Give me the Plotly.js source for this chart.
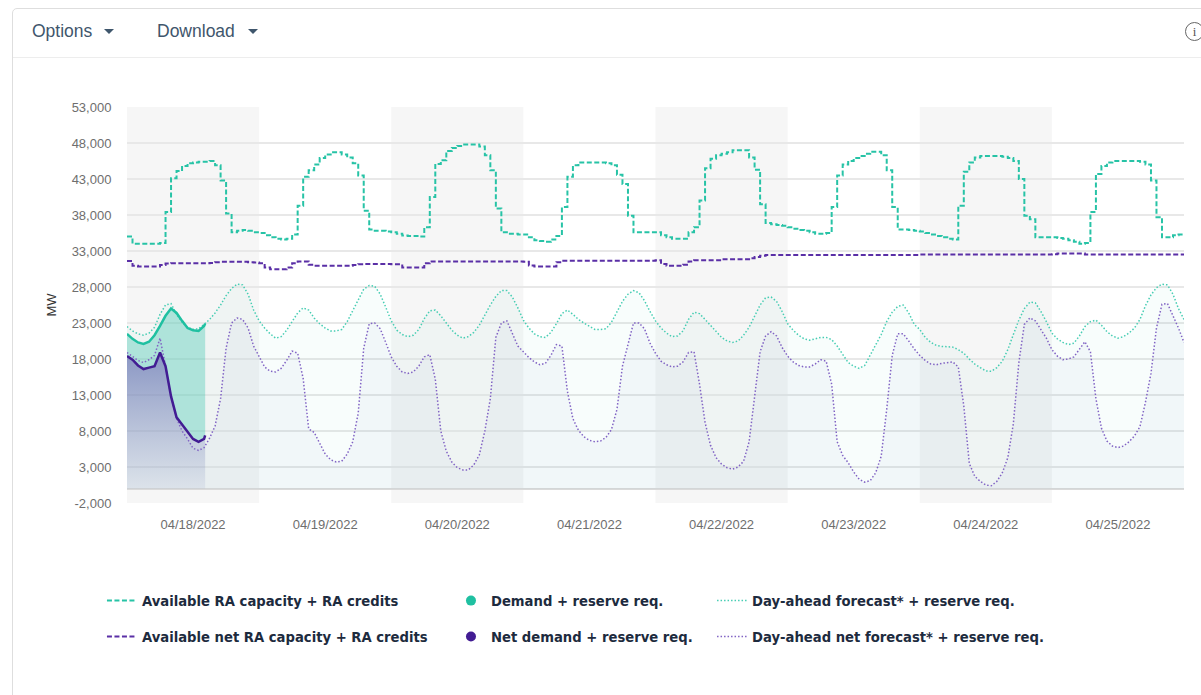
<!DOCTYPE html>
<html>
<head>
<meta charset="utf-8">
<script src="https://cdn.plot.ly/plotly-3.0.1.min.js"></script>
<style>
  html, body { margin:0; padding:0; background:#ffffff; width:1201px; height:695px; overflow:hidden; }
  #card { position:absolute; left:12px; top:8px; width:1260px; height:760px; border:1px solid #dedede; border-radius:5px; box-sizing:border-box; background:#fff; }
  #hdrline { position:absolute; left:13px; top:57px; width:1200px; height:1px; background:#ededed; }
  .menu { position:absolute; top:20px; height:22px; line-height:22px; font-family:"Liberation Sans", Arial, sans-serif; font-size:17.5px; color:#3f566c; }
  .caret { position:absolute; top:29px; width:0; height:0; border-left:5px solid transparent; border-right:5px solid transparent; border-top:5px solid #3f566c; }
  #info { position:absolute; left:1185px; top:22px; width:17px; height:17px; border:1.5px solid #666; border-radius:50%; font-family:"Liberation Serif", serif; font-size:13px; line-height:17px; text-align:center; color:#555; }
  #chart { position:absolute; left:0; top:0; width:1201px; height:695px; }
</style>
</head>
<body>
<div id="card"></div>
<div id="hdrline"></div>
<div class="menu" style="left:32px;">Options</div>
<div class="caret" style="left:104px;"></div>
<div class="menu" style="left:157px;">Download</div>
<div class="caret" style="left:248px;"></div>
<div id="info">i</div>
<div id="chart"></div>
<script>
// ---------- DATA ----------
const dayLabels = ['04/18/2022','04/19/2022','04/20/2022','04/21/2022','04/22/2022','04/23/2022','04/24/2022','04/25/2022'];
const yTickVals = [-2000, 3000, 8000, 13000, 18000, 23000, 28000, 33000, 38000, 43000, 48000, 53000];
const yTickText = ['-2,000','3,000','8,000','13,000','18,000','23,000','28,000','33,000','38,000','43,000','48,000','53,000'];

// Available RA capacity + RA credits (hourly, 04/18 00:00 .. 04/26 00:00)
const raCapacity = [
 35000,34000,34000,34000,34000,34000,34100,38400,43100,44100,44800,45200,45300,45400,45400,45500,44900,42800,38200,35600,35800,35900,35800,35600,
 35500,35200,34900,34700,34600,34700,35300,39300,43300,44200,45000,45900,46400,46700,46700,46400,46000,45200,43500,38600,36000,35800,35800,35700,
 35600,35400,35150,35100,35100,35000,36300,40500,45100,45600,46900,47300,47600,47800,47800,47800,47500,46300,44200,38900,35600,35400,35400,35300,
 35300,34900,34500,34400,34300,34600,35100,39100,43300,44900,45300,45300,45300,45300,45300,45200,44900,43600,42300,37900,35600,35600,35600,35600,
 35600,35200,34900,34700,34700,34700,35600,36300,40000,44500,45800,46300,46500,46700,47000,47000,47000,46000,44300,39500,36900,36700,36600,36500,
 36300,36100,35900,35800,35600,35400,35400,35500,39100,43500,45000,45500,45900,46200,46500,46800,46800,46300,44200,39100,36000,36000,35900,35800,
 35700,35500,35300,35100,34900,34700,34600,39300,44000,45300,46000,46200,46200,46200,46200,46100,45900,45500,43000,37900,37400,34900,34900,34900,
 34900,34800,34700,34500,34300,34000,34100,38400,43700,44800,45300,45500,45500,45500,45500,45500,45400,45000,42800,37700,34900,34900,35200,35300,35200
];
// Available net RA capacity + RA credits
const netRaCapacity = [
 31600,30950,30850,30850,30850,30850,31050,31250,31300,31300,31300,31300,31300,31300,31300,31350,31450,31500,31500,31500,31500,31500,31450,31400,
 31300,30700,30450,30450,30450,30700,31300,31550,31550,31100,30950,30950,30950,30950,30950,30950,30950,31050,31150,31200,31200,31200,31200,31200,
 31150,31150,30700,30700,30700,30700,31300,31550,31550,31550,31550,31550,31550,31550,31550,31550,31550,31550,31550,31550,31550,31550,31550,31550,
 31500,31000,30850,30850,30850,30850,31450,31650,31650,31650,31650,31650,31650,31650,31650,31650,31650,31650,31650,31650,31650,31650,31650,31650,
 31700,31200,30950,30950,30950,31100,31550,31700,31700,31700,31700,31700,31850,31850,31850,31850,31850,32000,32150,32350,32450,32450,32450,32450,
 32450,32450,32450,32450,32450,32450,32450,32450,32450,32450,32450,32450,32450,32450,32450,32450,32450,32450,32450,32450,32450,32450,32450,32450,
 32500,32500,32500,32500,32500,32500,32500,32500,32500,32500,32500,32500,32500,32500,32500,32500,32500,32500,32500,32500,32500,32500,32500,32500,
 32550,32650,32650,32650,32650,32650,32500,32500,32500,32500,32500,32500,32500,32500,32500,32500,32500,32500,32500,32500,32500,32500,32500,32500,32500
];
// Day-ahead forecast* + reserve req.
const daForecast = [
 22500,21900,21500,21300,21600,22400,24200,25500,25700,24200,23100,22400,22100,22200,22800,23500,24400,25500,26800,27800,28400,28300,27000,24800,
 23300,22300,21500,20900,21100,22000,23200,24400,25100,24800,23700,22900,22300,21900,21900,22100,23200,24600,26200,27700,28200,28100,27000,25200,
 23300,22000,21400,21100,21300,22100,23600,24700,24800,24000,23000,22000,21300,20900,21100,21700,22700,24200,25500,26700,27500,27500,26600,25100,
 23400,22300,21500,21100,21000,21700,22900,24300,24800,24200,23500,23000,22600,22100,22100,22200,23100,24600,26000,27000,27500,27200,26100,24600,
 23300,22300,21600,21100,21200,21900,23500,24500,24300,23500,22700,21800,21000,20500,20300,20500,21300,22400,24000,25500,26500,26600,26000,24600,
 22900,22000,21300,20800,20600,20800,21000,21000,20700,19800,18600,17500,17000,16700,17100,18500,20000,21400,23200,24500,25300,25500,24400,22800,
 22100,21000,20300,19900,19750,19750,19650,19300,18800,18000,17300,16800,16350,16300,16800,17700,19300,21400,23400,25000,25900,25800,24600,23200,
 21600,20800,20300,20000,20200,21200,22500,23200,23400,22700,21800,21200,20900,21100,21600,22300,23500,25400,26900,27900,28400,28300,27000,25000,23500
];
// Day-ahead net forecast* + reserve req.
const daNetForecast = [
 18900,18300,17800,17500,17900,18500,20900,17000,12800,9800,8000,6900,5600,5300,5700,7000,8700,12500,19500,23000,23700,23500,22300,19800,
 18300,16900,16300,16200,16700,17800,19100,18800,15300,8300,7800,6300,4800,4000,3700,3800,4800,6500,10500,19500,22900,23000,22200,20300,
 18300,17000,16200,16000,16200,17000,18300,18600,15200,8000,5200,3700,2900,2600,2600,3300,4700,8000,12500,21000,23000,23300,21600,19800,
 19000,18200,17600,17200,17400,18500,20000,19800,13500,9700,8100,7200,6700,6500,6600,7100,8200,11000,17000,20200,23000,23000,22200,20200,
 18800,17700,17200,16900,17000,17600,18900,19000,14500,9200,6000,4300,3400,2900,2700,3000,3800,6500,12500,19000,21200,21800,21200,19600,
 18400,17600,17100,16900,16900,17300,17900,17700,14500,6500,4600,3600,2300,1300,900,1100,2200,4500,11000,18500,21500,21500,20500,19400,
 18500,17800,17300,17200,17400,17500,17600,16900,11500,3500,1700,1000,500,400,1000,2200,4300,9000,17500,22800,23700,23300,22000,20900,
 19300,18400,17900,18000,18300,19300,20400,19000,12500,8400,6600,5900,5700,5900,6500,7300,8600,12000,16000,22300,25600,25700,24100,22300,20300
];
// Actuals (04/18)
const actualTimes = ['2022-04-18 00:00','2022-04-18 01:00','2022-04-18 02:00','2022-04-18 03:00','2022-04-18 04:00','2022-04-18 05:00',
 '2022-04-18 06:00','2022-04-18 07:00','2022-04-18 08:00','2022-04-18 09:00','2022-04-18 10:00','2022-04-18 11:00',
 '2022-04-18 12:00','2022-04-18 13:00','2022-04-18 14:00','2022-04-18 14:12'];
const demandActual = [21500,20800,20300,20100,20400,21300,22600,24000,25000,24400,23300,22300,22000,21900,22600,22900];
const netDemandActual = [18400,17900,17100,16600,16800,17000,18900,17000,12800,9900,8900,7900,6900,6500,6900,7400];

// ---------- helpers ----------
function hourStamp(h) {
  const d = new Date(Date.UTC(2022, 3, 18, 0, 0) + h * 3600000);
  return d.toISOString().slice(0, 16).replace('T', ' ');
}
const hours = raCapacity.map((_, i) => hourStamp(i));
const dayStart = i => hourStamp(i * 24);
const tickVals = dayLabels.map((_, i) => hourStamp(i * 24 + 12));

const TEAL = '#27c3a6', PURPLE = '#5a2fa6';
const TEAL_DOT = '#46cdb3', PURPLE_DOT = '#8163c4';
const TEAL_SOLID = '#1fc0a1', PURPLE_SOLID = '#421c93';

const traces = [
  // fills
  {x: hours, y: daForecast, mode: 'none', fill: 'tozeroy', fillcolor: 'rgba(38,194,165,0.03)', showlegend: false, hoverinfo: 'skip'},
  {x: hours, y: daNetForecast, mode: 'none', fill: 'tozeroy', fillcolor: 'rgba(95,115,175,0.045)', showlegend: false, hoverinfo: 'skip'},
  {x: actualTimes, y: netDemandActual, mode: 'none', fill: 'tozeroy',
   fillgradient: {type: 'vertical', start: 0, stop: 19000,
     colorscale: [[0, 'rgba(110,125,180,0.10)'], [1, 'rgba(100,115,178,0.72)']]},
   showlegend: false, hoverinfo: 'skip'},
  {x: actualTimes, y: demandActual, mode: 'none', fill: 'tonexty', fillcolor: 'rgba(38,194,165,0.32)', showlegend: false, hoverinfo: 'skip'},
  // lines
  {x: hours, y: raCapacity, mode: 'lines', name: 'Available RA capacity + RA credits', line: {color: TEAL, width: 2, dash: '5px,2.5px', shape: 'hv'}, legend: 'legend'},
  {x: hours, y: netRaCapacity, mode: 'lines', name: 'Available net RA capacity + RA credits', line: {color: PURPLE, width: 2, dash: '5px,2.5px', shape: 'hv'}, legend: 'legend4'},
  {x: hours, y: daForecast, mode: 'lines', name: 'Day-ahead forecast* + reserve req.', line: {color: TEAL_DOT, width: 1.5, dash: '1.5px,2px'}, legend: 'legend3'},
  {x: hours, y: daNetForecast, mode: 'lines', name: 'Day-ahead net forecast* + reserve req.', line: {color: PURPLE_DOT, width: 1.5, dash: '1.5px,2px'}, legend: 'legend6'},
  {x: actualTimes, y: demandActual, mode: 'lines', line: {color: TEAL_SOLID, width: 2.5}, showlegend: false},
  {x: actualTimes, y: netDemandActual, mode: 'lines', line: {color: PURPLE_SOLID, width: 2.5}, showlegend: false},
  // legend markers
  {x: [null], y: [null], mode: 'markers', name: 'Demand + reserve req.', marker: {color: TEAL_SOLID, size: 10}, legend: 'legend2'},
  {x: [null], y: [null], mode: 'markers', name: 'Net demand + reserve req.', marker: {color: PURPLE_SOLID, size: 10}, legend: 'legend5'}
];

const shapes = [0, 2, 4, 6].map(i => ({
  type: 'rect', xref: 'x', yref: 'paper', x0: dayStart(i), x1: dayStart(i + 1), y0: 0, y1: 1,
  fillcolor: '#f6f6f6', line: {width: 0}, layer: 'below'
}));

const legFont = {family: '"DejaVu Sans", sans-serif', size: 13.2, color: '#1d2b3e', weight: 'bold'};
function leg(x, y) {
  return {x: x, y: y, xanchor: 'left', yanchor: 'middle', orientation: 'v', bgcolor: 'rgba(0,0,0,0)', font: legFont, itemwidth: 30};
}
const r1 = -0.2475, r2 = -0.3384;

const layout = {
  width: 1201, height: 695,
  margin: {l: 127, r: 17, t: 107, b: 192},
  paper_bgcolor: 'rgba(0,0,0,0)', plot_bgcolor: '#ffffff',
  hovermode: false,
  shapes: shapes,
  xaxis: {
    type: 'date', range: [dayStart(0), dayStart(8)],
    tickvals: tickVals, ticktext: dayLabels,
    showgrid: false, zeroline: false, showline: false,
    ticks: 'outside', ticklen: 9, tickcolor: 'rgba(0,0,0,0)',
    tickfont: {family: '"Liberation Sans", Arial, sans-serif', size: 13, color: '#6e6e6e'}
  },
  yaxis: {
    range: [-2000, 53000], tickvals: yTickVals, ticktext: yTickText,
    showgrid: true, gridcolor: '#e8e8e8', gridwidth: 2,
    zeroline: true, zerolinecolor: '#dadada', zerolinewidth: 2,
    ticks: 'outside', ticklen: 12, tickcolor: 'rgba(0,0,0,0)',
    tickfont: {family: '"Liberation Sans", Arial, sans-serif', size: 13, color: '#6e6e6e'},
    title: {text: 'MW', standoff: 12, font: {family: '"Liberation Sans", Arial, sans-serif', size: 13, color: '#333'}}
  },
  legend: leg(-0.0237, r1),
  legend2: leg(0.3065, r1),
  legend3: leg(0.5535, r1),
  legend4: leg(-0.0237, r2),
  legend5: leg(0.3065, r2),
  legend6: leg(0.5535, r2)
};

Plotly.newPlot('chart', traces, layout, {displayModeBar: false, staticPlot: true});
</script>
</body>
</html>
